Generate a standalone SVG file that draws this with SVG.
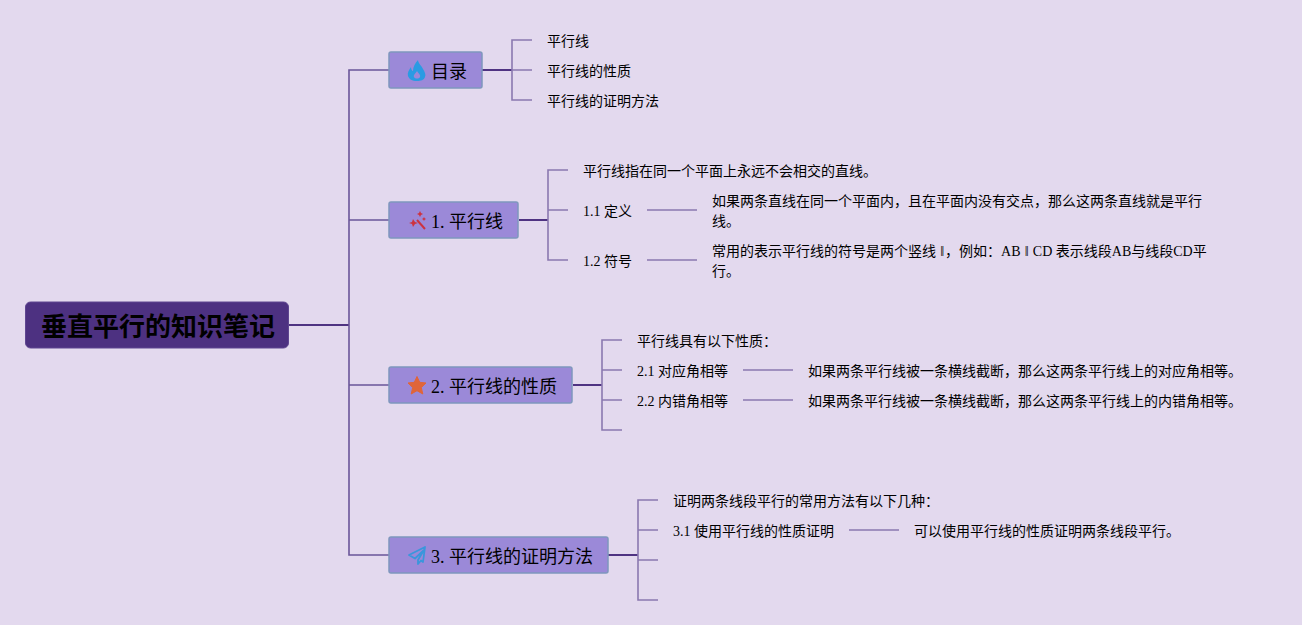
<svg xmlns="http://www.w3.org/2000/svg" width="1302" height="625" viewBox="0 0 1302 625">
<style>
text{font-family:"Liberation Serif","Noto Sans CJK SC",serif;fill:#000;white-space:pre}
.t{font-size:14px}
.h{font-size:18px}
.l1{fill:none;stroke:#6a5599;stroke-width:1.600}
.l2{fill:none;stroke:#8a78b0;stroke-width:1.600}
.thick{fill:none;stroke:#4f3382;stroke-width:2}
.box{fill:#9b89d8;stroke:#7f97bd;stroke-width:1.500}
</style>
<rect width="1302" height="625" fill="#e3d9ee"/>
<g id="connectors">
<path class="thick" d="M289 325H349"/>
<path class="l1" d="M389 70H349V555H389M349 220H389M349 385H389"/>
<path class="thick" d="M482 70H512M519 220H548M573 385H602M608 555H638"/>
<path class="l2" d="M532 40H512V100H532M512 70H532"/>
<path class="l2" d="M568 170H548V260H568M548 210H568"/>
<path class="l2" d="M622 340H602V430H622M602 370H622M602 400H622"/>
<path class="l2" d="M658 500H638V600H658M638 530H658M638 560H658"/>
<path class="l2" d="M647 210H697M647 260H697M743 370H793M743 400H793M849 530H899"/>
</g>
<g id="root"><rect x="25.500" y="302" width="263" height="46" rx="5" fill="#4d3181" stroke="#5f4690"/>
<text x="41" y="336" font-size="26" font-weight="700" style="font-family:'Noto Sans CJK SC',sans-serif">垂直平行的知识笔记</text></g>
<g id="n0"><rect class="box" x="389" y="52" width="93" height="36" rx="2"/>
<path fill-rule="evenodd" d="M418 60C418 63 421 65 423 69C425 72 426 75 425 77C424 80 421 81 417 81C412 81 409 79 408 76C407 73 409 70 411 67C411 69 412 71 413 71C413 67 415 63 418 60ZM417 71C416 73 413 75 414 77C415 79 419 79 420 77C421 75 418 73 417 71Z" fill="#2a9be3"/>
<text class="h" x="431" y="78">目录</text></g>
<g id="n1"><rect class="box" x="389" y="202" width="129" height="36" rx="2"/>
<path d="M417 220L425 229" stroke="#cc3340" stroke-width="2" fill="none"/>
<path d="M413 219l2 3 3 1-3 1-2 3-1-3-3-1 3-1zM420 211l1 2 2 1-2 1-1 2-1-2-2-1 2-1zM424 217l.7 1.300 1.300.7-1.300.7-.7 1.300-.7-1.300-1.300-.7 1.300-.7z" fill="#cc3340"/>
<text class="h" x="431" y="228">1. 平行线</text></g>
<g id="n2"><rect class="box" x="389" y="367" width="183" height="36" rx="2"/>
<path d="M417 376.500L419.700 382.300L426 383L421.300 387.500L422.800 394L417 390.700L411.200 394L412.700 387.500L408 383L414.300 382.300Z" fill="#e0653a" stroke="#e0653a" stroke-linejoin="round"/>
<text class="h" x="431" y="393">2. 平行线的性质</text></g>
<g id="n3"><rect class="box" x="389" y="537" width="219" height="36" rx="2"/>
<path d="M425 547L409 555L415 558.500L424 550L418 560V564L421 560.500L423 562Z" fill="none" stroke="#3a96dc" stroke-width="1.800" stroke-linejoin="round"/>
<text class="h" x="431" y="563">3. 平行线的证明方法</text></g>
<g id="t0"><text class="t" x="547" y="46">平行线</text></g>
<g id="t1"><text class="t" x="547" y="76">平行线的性质</text></g>
<g id="t2"><text class="t" x="547" y="106">平行线的证明方法</text></g>
<g id="t3"><text class="t" x="583" y="176">平行线指在同一个平面上永远不会相交的直线。</text></g>
<g id="t4"><text class="t" x="583" y="216">1.1 定义</text></g>
<g id="t5"><text class="t" x="712" y="206">如果两条直线在同一个平面内，且在平面内没有交点，那么这两条直线就是平行</text><text class="t" x="712" y="226">线。</text></g>
<g id="t6"><text class="t" x="583" y="266">1.2 符号</text></g>
<g id="t7"><text class="t" x="712" y="256">常用的表示平行线的符号是两个竖线 <tspan dx="0.8">‖</tspan><tspan dx="0.8">，</tspan>例如：AB <tspan dx="0.7">‖</tspan><tspan dx="0.7"> </tspan>CD 表示线段AB与线段CD平</text><text class="t" x="712" y="276">行。</text></g>
<g id="t8"><text class="t" x="637" y="346">平行线具有以下性质：</text></g>
<g id="t9"><text class="t" x="637" y="376">2.1 对应角相等</text></g>
<g id="t10"><text class="t" x="808" y="376">如果两条平行线被一条横线截断，那么这两条平行线上的对应角相等。</text></g>
<g id="t11"><text class="t" x="637" y="406">2.2 内错角相等</text></g>
<g id="t12"><text class="t" x="808" y="406">如果两条平行线被一条横线截断，那么这两条平行线上的内错角相等。</text></g>
<g id="t13"><text class="t" x="673" y="506">证明两条线段平行的常用方法有以下几种：</text></g>
<g id="t14"><text class="t" x="673" y="536">3.1 使用平行线的性质证明</text></g>
<g id="t15"><text class="t" x="914" y="536">可以使用平行线的性质证明两条线段平行。</text></g>
</svg>
